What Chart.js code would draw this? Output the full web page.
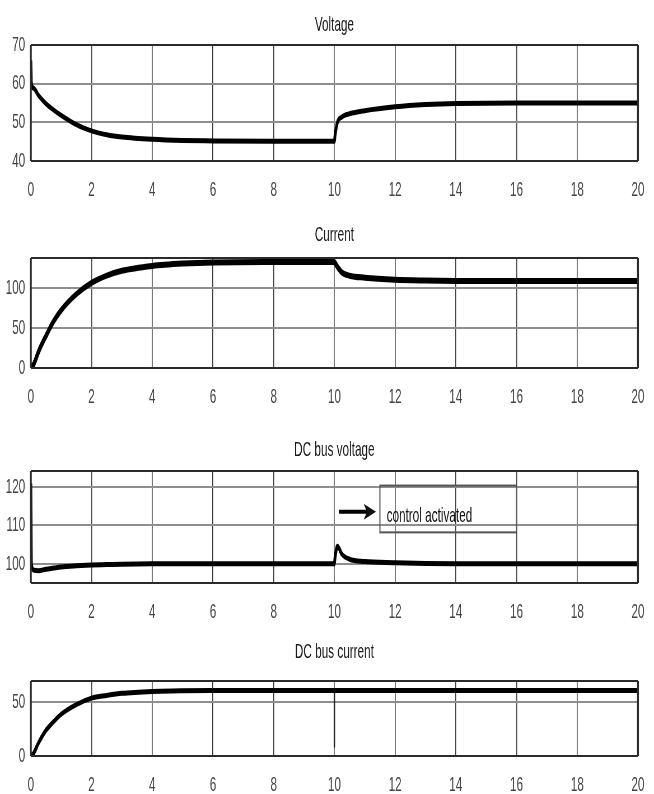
<!DOCTYPE html>
<html>
<head>
<meta charset="utf-8">
<script src="https://cdn.jsdelivr.net/npm/chart.js@4.4.1/dist/chart.umd.min.js"></script>
<style>
  body { margin: 0; background: #fff; }
  #wrap { position: relative; width: 654px; height: 794px; overflow: hidden; }
  canvas { position: absolute; left: 0; }
</style>
</head>
<body>
<div id="wrap">
  <canvas id="voltageChart"></canvas>
  <canvas id="currentChart"></canvas>
  <canvas id="busVoltageChart"></canvas>
  <canvas id="busCurrentChart"></canvas>
</div>
<script>
// ---------------- data ---------------- //

var t          = [0, 0.02, 0.1, 0.25, 0.5, 0.75, 1, 1.5, 2, 2.5, 3, 4, 5, 6, 8, 10, 10.02, 10.1, 10.25, 10.5, 11, 12, 13, 14, 16, 20];
var voltage    = [66, 60, 58.8, 57, 54.8, 53.2, 51.8, 49.4, 47.8, 46.8, 46.2, 45.6, 45.3, 45.2, 45.1, 45.1, 46.5, 50, 51.4, 52.2, 53, 54, 54.6, 54.9, 55, 55];
var current    = [0, 1, 5, 20, 40, 58, 72, 92, 106, 115, 121, 127, 130, 131.5, 132, 132, 131, 126, 119, 115, 112.5, 110, 109, 108.5, 108.3, 108.3];
var busVoltage = [121, 100, 98.3, 98.2, 98.6, 98.9, 99.2, 99.5, 99.7, 99.8, 99.9, 100, 100, 100, 100, 100, 101.5, 104.6, 102.5, 101.2, 100.6, 100.3, 100.1, 100, 100, 100];
var busCurrent = [0, 0.6, 3, 12, 24, 32, 39, 48, 54, 56.5, 58.5, 60.3, 61, 61.2, 61.2, 61.2, 61.2, 61.2, 61.2, 61.2, 61.2, 61.2, 61.2, 61.2, 61.2, 61.2];

// short glitch on the DC bus current at t = 10
var dipT = [10, 10];
var dipI = [60, 8];

var xTicks          = [0, 2, 4, 6, 8, 10, 12, 14, 16, 18, 20];
var voltageTicks    = [40, 50, 60, 70];
var currentTicks    = [0, 50, 100];
var busVoltageTicks = [100, 110, 120];
var busCurrentTicks = [0, 50];

// the figure is drawn wide and squeezed to 654px, like the original export
var W = 1168;
var FONT = "'Liberation Sans', Arimo, Arial, sans-serif";

function points(xs, ys) {
    return xs.map(function (x, i) { return { x: x, y: ys[i] }; });
}

function trace(xs, ys, width, color) {
    return {
        data: points(xs, ys),
        borderColor: color || '#000',
        borderWidth: width,
        pointRadius: 0,
        fill: false,
        tension: 0.4,
        cubicInterpolationMode: 'monotone'
    };
}

// axes box, drawn over the grid like matlab does
var framePlugin = {
    id: 'frame',
    afterDraw: function (chart) {
        var a = chart.chartArea, ctx = chart.ctx;
        ctx.save();
        ctx.strokeStyle = '#2b2b2b';
        ctx.lineWidth = 2;
        ctx.beginPath();
        ctx.moveTo(a.left, a.top); ctx.lineTo(a.right, a.top);
        ctx.moveTo(a.left, a.bottom); ctx.lineTo(a.right, a.bottom);
        ctx.stroke();
        ctx.lineWidth = 3.5;
        ctx.beginPath();
        ctx.moveTo(a.left, a.top); ctx.lineTo(a.left, a.bottom);
        ctx.moveTo(a.right, a.top); ctx.lineTo(a.right, a.bottom);
        ctx.stroke();
        ctx.restore();
    }
};

// "control activated" text box with arrow
var notePlugin = {
    id: 'note',
    afterDraw: function (chart, args, opts) {
        if (!opts.text) return;
        var xs = chart.scales.x, ys = chart.scales.y, ctx = chart.ctx;
        var bx0 = xs.getPixelForValue(opts.box[0]), bx1 = xs.getPixelForValue(opts.box[1]);
        var by0 = ys.getPixelForValue(opts.box[3]), by1 = ys.getPixelForValue(opts.box[2]);
        ctx.save();
        ctx.strokeStyle = '#555';
        ctx.lineWidth = 2;
        ctx.strokeRect(bx0, by0, bx1 - bx0, by1 - by0);

        ctx.fillStyle = '#111';
        ctx.font = '21px ' + FONT;
        ctx.textBaseline = 'middle';
        ctx.textAlign = 'left';
        ctx.fillText(opts.text, xs.getPixelForValue(opts.textAt[0]), ys.getPixelForValue(opts.textAt[1]));

        var ax0 = xs.getPixelForValue(opts.arrow[0]), ax1 = xs.getPixelForValue(opts.arrow[1]);
        var ay = ys.getPixelForValue(opts.arrow[2]);
        ctx.strokeStyle = '#000';
        ctx.lineWidth = 4;
        ctx.beginPath();
        ctx.moveTo(ax0, ay); ctx.lineTo(ax1 - 12, ay);
        ctx.stroke();
        ctx.beginPath();
        ctx.moveTo(ax1, ay);
        ctx.lineTo(ax1 - 22, ay - 8);
        ctx.lineTo(ax1 - 16, ay);
        ctx.lineTo(ax1 - 22, ay + 8);
        ctx.closePath();
        ctx.fill();
        ctx.restore();
    }
};

function makePanel(id, p) {
    var canvas = document.getElementById(id);
    var h = p.bottom - p.top;
    canvas.width = W;
    canvas.height = h;
    canvas.style.top = p.top + 'px';
    canvas.style.width = '654px';
    canvas.style.height = h + 'px';

    var titleBox = p.plotTop - p.top;
    var padTop = p.titleY - p.top - 12.6;

    return new Chart(canvas, {
        type: 'line',
        data: { datasets: p.datasets },
        plugins: [framePlugin, notePlugin],
        options: {
            responsive: false,
            animation: false,
            devicePixelRatio: 1,
            layout: { padding: { top: 0, right: 16, bottom: 0, left: 0 } },
            plugins: {
                legend: { display: false },
                tooltip: { enabled: false },
                title: {
                    display: true,
                    fullSize: false,
                    text: p.title,
                    color: '#1a1a1a',
                    font: { family: FONT, size: 21, weight: 'normal', lineHeight: 1.2 },
                    padding: { top: padTop, bottom: titleBox - padTop - 25.2 }
                },
                note: p.note || {}
            },
            scales: {
                x: {
                    type: 'linear',
                    min: 0,
                    max: 20,
                    afterBuildTicks: function (s) { s.ticks = xTicks.map(function (v) { return { value: v }; }); },
                    afterFit: function (s) { s.height = p.bottom - p.plotBottom; },
                    grid: { color: '#3c3c3c', lineWidth: 1.6, drawTicks: false },
                    border: { display: false },
                    ticks: { padding: 17, color: '#444', maxRotation: 0, autoSkip: false, font: { family: FONT, size: 21 } }
                },
                y: {
                    type: 'linear',
                    min: p.ymin,
                    max: p.ymax,
                    afterBuildTicks: function (s) { s.ticks = p.yTicks.map(function (v) { return { value: v }; }); },
                    afterFit: function (s) { s.width = 55; },
                    grid: { color: '#8e8e8e', lineWidth: 2, drawTicks: false },
                    border: { display: false },
                    ticks: { padding: 10, color: '#444', font: { family: FONT, size: 21 } }
                }
            }
        }
    });
}

makePanel('voltageChart', {
    title: 'Voltage', top: 0, bottom: 205, titleY: 25, plotTop: 45, plotBottom: 161,
    ymin: 40, ymax: 70, yTicks: voltageTicks,
    datasets: [trace(t, voltage, 5)]
});

makePanel('currentChart', {
    title: 'Current', top: 205, bottom: 415, titleY: 235, plotTop: 258, plotBottom: 368,
    ymin: 0, ymax: 137, yTicks: currentTicks,
    datasets: [trace(t, current, 6)]
});

makePanel('busVoltageChart', {
    title: 'DC bus voltage', top: 415, bottom: 630, titleY: 450, plotTop: 471, plotBottom: 583,
    ymin: 95, ymax: 124.2, yTicks: busVoltageTicks,
    datasets: [trace(t, busVoltage, 5)],
    note: { text: 'control activated', box: [11.5, 16.0, 108.2, 120.4], textAt: [11.72, 112.3], arrow: [10.15, 11.37, 113.6] }
});

makePanel('busCurrentChart', {
    title: 'DC bus current', top: 630, bottom: 794, titleY: 652, plotTop: 681, plotBottom: 756,
    ymin: 0, ymax: 70, yTicks: busCurrentTicks,
    datasets: [trace(t, busCurrent, 5), trace(dipT, dipI, 2.5, '#222')]
});
</script>
</body>
</html>
